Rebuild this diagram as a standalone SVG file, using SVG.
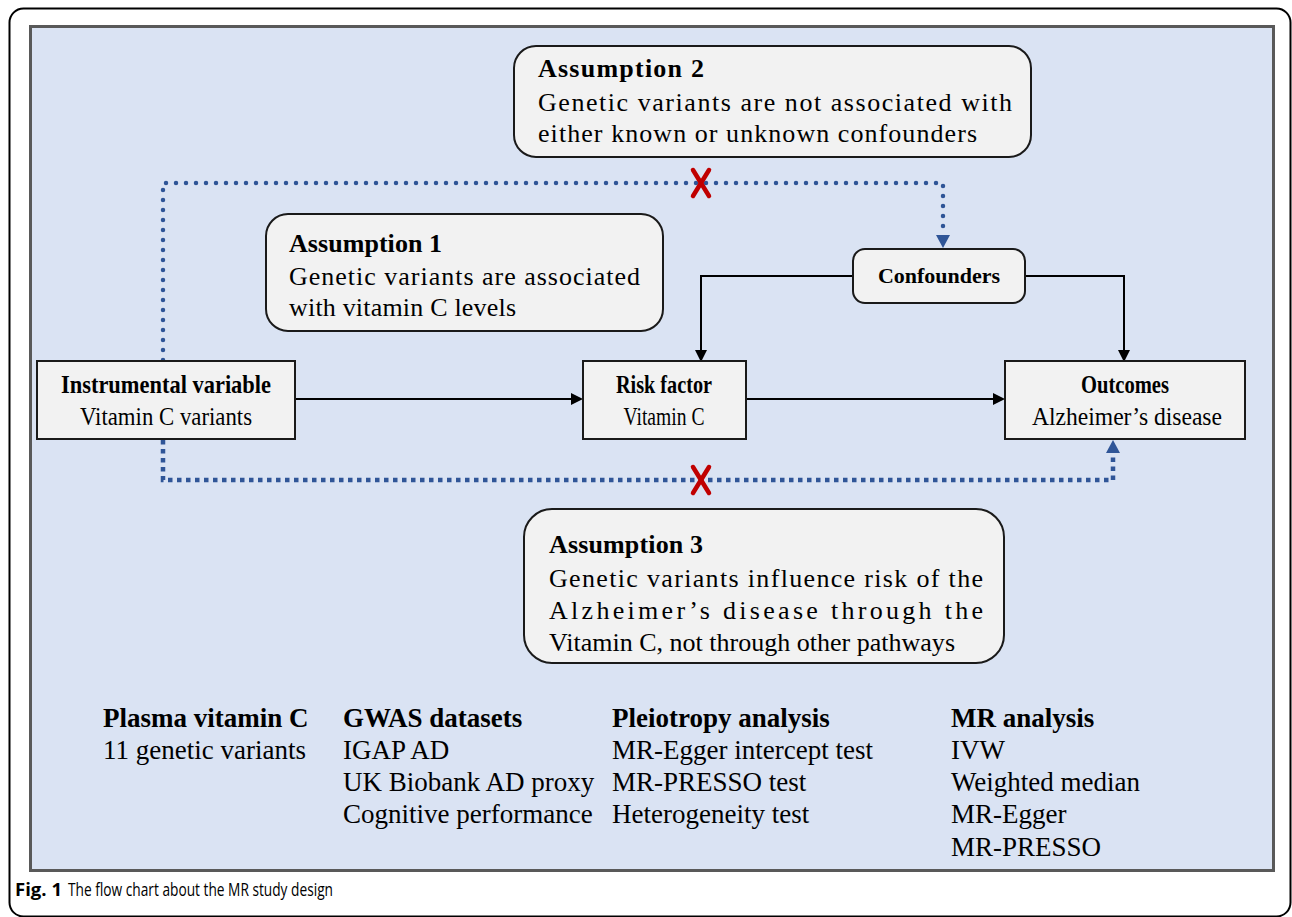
<svg xmlns="http://www.w3.org/2000/svg" width="1292" height="917" viewBox="0 0 1292 917">
<style>
.sr{font-family:"Liberation Serif","Times New Roman",serif;fill:#000}
.b{font-weight:bold}
.c{text-anchor:middle}
.box{fill:#f2f2f2;stroke:#1a1a1a;stroke-width:2}
.conn{fill:none;stroke:#000;stroke-width:2}
.dotr{fill:none;stroke:#2f5597;stroke-width:4.5;stroke-linecap:round;stroke-dasharray:0 10}
.dots{fill:none;stroke:#2f5597;stroke-width:4.5;stroke-dasharray:4.5 4.5}
.x{stroke:#c00000;stroke-width:4.5;stroke-linecap:round}
.cap{font-family:"Open Sans","Noto Sans",sans-serif;fill:#000}
.bt{font-size:27px}
</style>
<defs>
<marker id="ab" viewBox="0 0 12 12" refX="0" refY="6" markerWidth="12" markerHeight="12" markerUnits="userSpaceOnUse" orient="auto"><path d="M0,0 L12,6 L0,12 z" fill="#000"/></marker>
<marker id="au" viewBox="0 0 13 14" refX="0" refY="7" markerWidth="13" markerHeight="14" markerUnits="userSpaceOnUse" orient="auto"><path d="M0,0 L13,7 L0,14 z" fill="#2f5597"/></marker>
</defs>
<rect x="9.5" y="8.5" width="1281" height="908" rx="14" fill="#fff" stroke="#000" stroke-width="2"/>
<rect x="30.5" y="26.5" width="1243" height="844" fill="#dae3f3" stroke="#595959" stroke-width="3"/>

<g id="connectors">
<path class="dotr" d="M163,360 V183 H943 V235" marker-end="url(#au)"/>
<path class="dots" d="M163,440 V480 H1113 V453" marker-end="url(#au)"/>
<path class="conn" d="M853,276 H701 V350" marker-end="url(#ab)"/>
<path class="conn" d="M1025,276 H1124 V350" marker-end="url(#ab)"/>
<path class="conn" d="M295,399 H571" marker-end="url(#ab)"/>
<path class="conn" d="M746,399 H993" marker-end="url(#ab)"/>
<g id="x1"><line class="x" x1="693" y1="170" x2="709" y2="196"/><line class="x" x1="709" y1="170" x2="693" y2="196"/></g>
<g id="x2"><line class="x" x1="693" y1="467" x2="709" y2="493"/><line class="x" x1="709" y1="467" x2="693" y2="493"/></g>
</g>

<g id="assumption2">
<rect class="box" x="514" y="46" width="517" height="111" rx="22"/>
<text class="sr b" x="538" y="77" font-size="26" textLength="166">Assumption 2</text>
<text class="sr" x="538" y="111" font-size="26" textLength="474">Genetic variants are not associated with</text>
<text class="sr" x="538" y="142" font-size="26" textLength="439">either known or unknown confounders</text>
</g>

<g id="assumption1">
<rect class="box" x="266" y="214" width="397" height="117" rx="22"/>
<text class="sr b" x="289" y="252" font-size="26" textLength="153">Assumption 1</text>
<text class="sr" x="289" y="285" font-size="26" textLength="351">Genetic variants are associated</text>
<text class="sr" x="289" y="316" font-size="26" textLength="227">with vitamin C levels</text>
</g>

<g id="confounders">
<rect class="box" x="853" y="249" width="172" height="54" rx="12"/>
<text class="sr b c" x="939" y="283" font-size="22">Confounders</text>
</g>

<g id="instrumental">
<rect class="box" x="37" y="361" width="258" height="78"/>
<text class="sr b c" x="166" y="393" font-size="25" textLength="210" lengthAdjust="spacingAndGlyphs">Instrumental variable</text>
<text class="sr c" x="166" y="425" font-size="25" textLength="172" lengthAdjust="spacingAndGlyphs">Vitamin C variants</text>
</g>

<g id="risk">
<rect class="box" x="583" y="361" width="163" height="78"/>
<text class="sr b c" x="664" y="393" font-size="25" textLength="96" lengthAdjust="spacingAndGlyphs">Risk factor</text>
<text class="sr c" x="664" y="425" font-size="25" textLength="81" lengthAdjust="spacingAndGlyphs">Vitamin C</text>
</g>

<g id="outcomes">
<rect class="box" x="1005" y="361" width="240" height="78"/>
<text class="sr b c" x="1125" y="393" font-size="25" textLength="88" lengthAdjust="spacingAndGlyphs">Outcomes</text>
<text class="sr c" x="1127" y="425" font-size="25" textLength="190" lengthAdjust="spacingAndGlyphs">Alzheimer’s disease</text>
</g>

<g id="assumption3">
<rect class="box" x="524" y="509" width="480" height="154" rx="28"/>
<text class="sr b" x="549" y="553" font-size="26" textLength="154">Assumption 3</text>
<text class="sr" x="549" y="587" font-size="26" textLength="434">Genetic variants influence risk of the</text>
<text class="sr" x="549" y="619" font-size="26" textLength="434">Alzheimer’s disease through the</text>
<text class="sr" x="549" y="651" font-size="26" textLength="406">Vitamin C, not through other pathways</text>
</g>

<g id="col1">
<text class="sr b bt" x="103" y="727">Plasma vitamin C</text>
<text class="sr bt" x="103" y="759">11 genetic variants</text>
</g>
<g id="col2">
<text class="sr b bt" x="343" y="727">GWAS datasets</text>
<text class="sr bt" x="343" y="759">IGAP AD</text>
<text class="sr bt" x="343" y="791">UK Biobank AD proxy</text>
<text class="sr bt" x="343" y="823">Cognitive performance</text>
</g>
<g id="col3">
<text class="sr b bt" x="612" y="727">Pleiotropy analysis</text>
<text class="sr bt" x="612" y="759">MR-Egger intercept test</text>
<text class="sr bt" x="612" y="791">MR-PRESSO test</text>
<text class="sr bt" x="612" y="823">Heterogeneity test</text>
</g>
<g id="col4">
<text class="sr b bt" x="951" y="727">MR analysis</text>
<text class="sr bt" x="951" y="759">IVW</text>
<text class="sr bt" x="951" y="791">Weighted median</text>
<text class="sr bt" x="951" y="823">MR-Egger</text>
<text class="sr bt" x="951" y="856">MR-PRESSO</text>
</g>

<g id="caption">
<text class="cap" x="15" y="896" font-size="18" font-weight="bold" textLength="47" lengthAdjust="spacingAndGlyphs">Fig. 1</text>
<text class="cap" x="68" y="896" font-size="18" textLength="265" lengthAdjust="spacingAndGlyphs">The flow chart about the MR study design</text>
</g>
</svg>
